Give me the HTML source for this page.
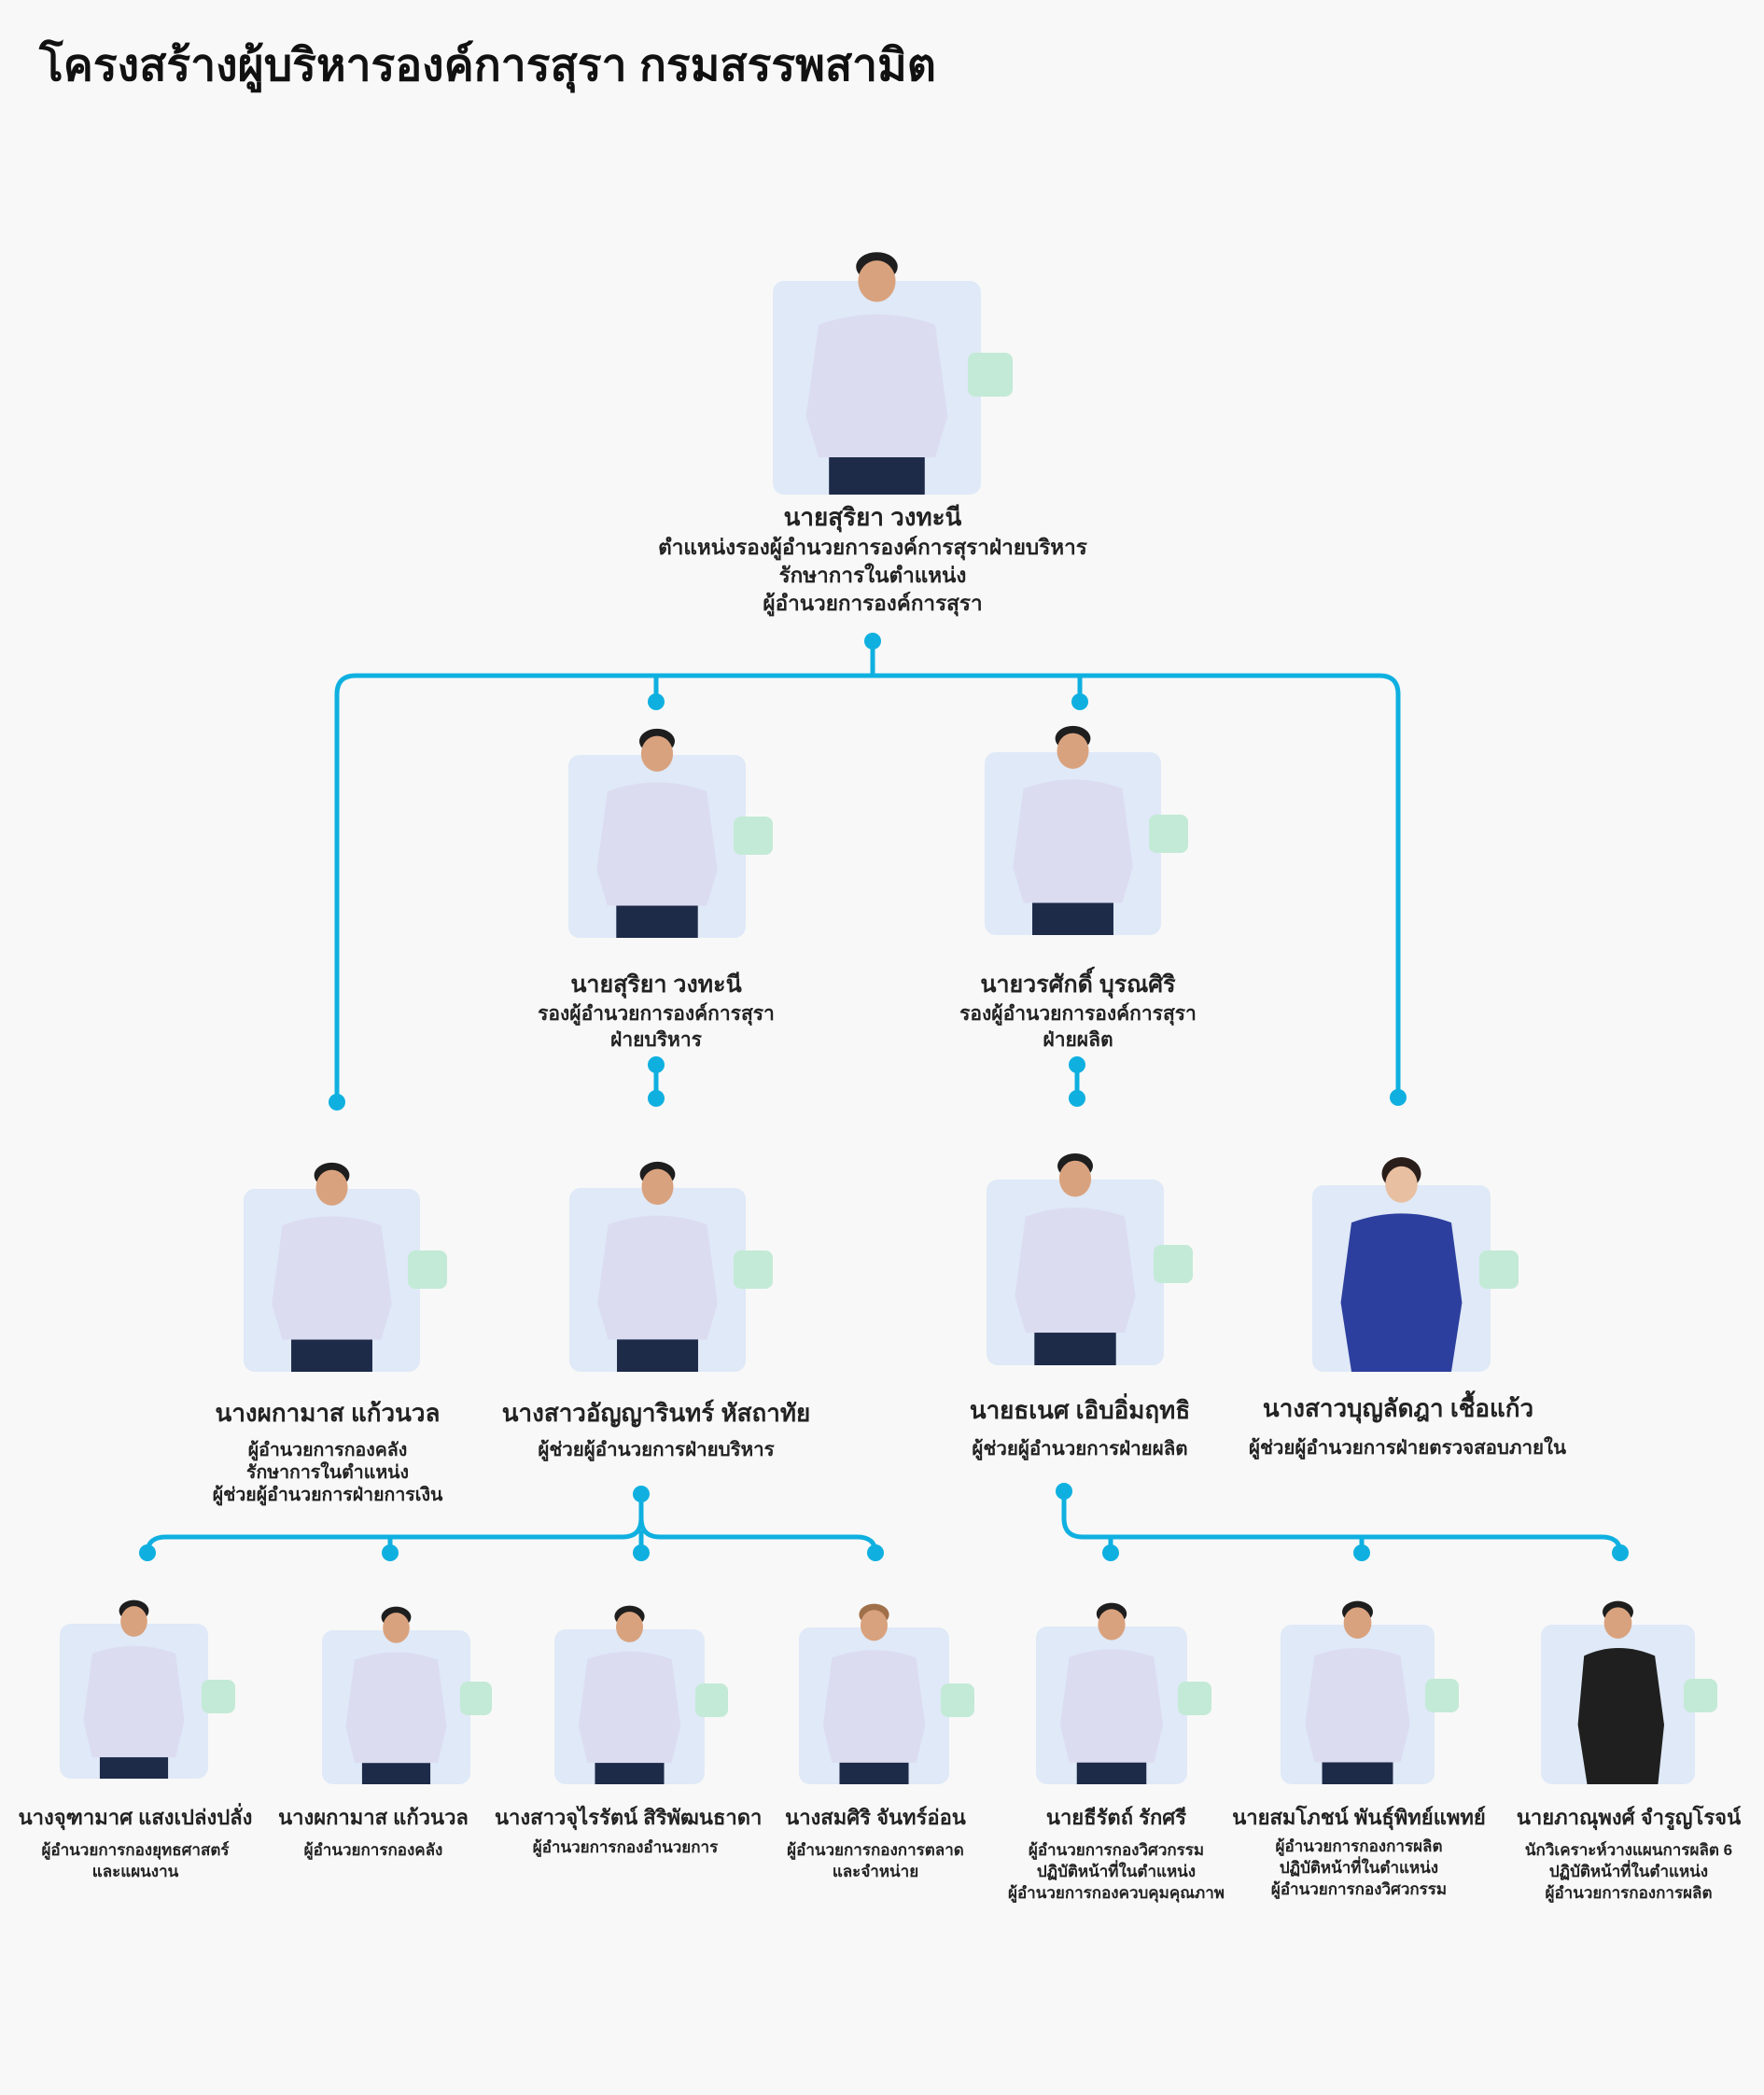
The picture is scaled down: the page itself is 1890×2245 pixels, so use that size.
<!DOCTYPE html>
<html><head><meta charset="utf-8">
<style>
html,body{margin:0;padding:0}
body{width:1890px;height:2245px;background:#f8f8f8;position:relative;overflow:hidden;font-family:"Liberation Sans","Noto Sans CJK SC",sans-serif;color:#222}
.t{position:absolute;text-align:center;white-space:nowrap;font-weight:bold}
.box{position:absolute;background:#dfe9f7;border-radius:12px}
.box svg{position:absolute;left:0;overflow:visible}
.tab{position:absolute;background:#c3ead6;border-radius:8px}
</style></head><body>
<div class="t" style="left:42px;top:32px;font-size:48px;text-align:left;color:#111">โครงสร้างผู้บริหารองค์การสุรา กรมสรรพสามิต</div>

<svg width="1890" height="2245" style="position:absolute;left:0;top:0" fill="none" stroke="#0fb0e0" stroke-width="5">
<path d="M935 687V724M361 1181V744Q361 724 381 724H1478Q1498 724 1498 744V1176M703 724V752M1157 724V752"/>
<path d="M703 1141V1177M1154 1141V1177"/>
<path d="M687 1601V1627Q687 1647 667 1647H178Q158 1647 158 1664M687 1627Q687 1647 707 1647H918Q938 1647 938 1664M418 1647V1664M687 1640V1664"/>
<path d="M1140 1598V1627Q1140 1647 1160 1647H1716Q1736 1647 1736 1664M1190 1647V1664M1459 1647V1664"/>
<g fill="#0fb0e0" stroke="none">
<circle cx="935" cy="687" r="9"/><circle cx="703" cy="752" r="9"/><circle cx="1157" cy="752" r="9"/><circle cx="361" cy="1181" r="9"/><circle cx="1498" cy="1176" r="9"/>
<circle cx="703" cy="1141" r="9"/><circle cx="703" cy="1177" r="9"/><circle cx="1154" cy="1141" r="9"/><circle cx="1154" cy="1177" r="9"/>
<circle cx="687" cy="1601" r="9"/><circle cx="1140" cy="1598" r="9"/>
<circle cx="158" cy="1664" r="9"/><circle cx="418" cy="1664" r="9"/><circle cx="687" cy="1664" r="9"/><circle cx="938" cy="1664" r="9"/>
<circle cx="1190" cy="1664" r="9"/><circle cx="1459" cy="1664" r="9"/><circle cx="1736" cy="1664" r="9"/>
</g></svg>

<div class="box" style="left:828px;top:301px;width:223px;height:229px"><svg width="223" height="262" style="top:-33px" viewBox="0 0 100 118" preserveAspectRatio="none"><ellipse cx="50" cy="8" rx="10" ry="7" fill="#1e1e1e"/><ellipse cx="50" cy="15" rx="9" ry="10" fill="#d9a27e"/><path d="M22 36Q50 26 78 36L84 80L78 100H22L16 80Z" fill="#dcdcf1"/><rect x="27" y="100" width="46" height="18" fill="#1d2a48"/></svg></div>
<div class="tab" style="left:1037px;top:378px;width:48px;height:47px"></div>
<div class="t" style="left:535px;width:800px;top:538px;font-size:26px;line-height:32px">นายสุริยา วงทะนี</div>
<div class="t" style="left:535px;width:800px;top:572px;font-size:22.5px;line-height:30px">ตำแหน่งรองผู้อำนวยการองค์การสุราฝ่ายบริหาร<br>รักษาการในตำแหน่ง<br>ผู้อำนวยการองค์การสุรา</div>

<div class="box" style="left:609px;top:809px;width:190px;height:196px"><svg width="190" height="226" style="top:-30px" viewBox="0 0 100 118" preserveAspectRatio="none"><ellipse cx="50" cy="8" rx="10" ry="7" fill="#1e1e1e"/><ellipse cx="50" cy="15" rx="9" ry="10" fill="#d9a27e"/><path d="M22 36Q50 26 78 36L84 80L78 100H22L16 80Z" fill="#dcdcf1"/><rect x="27" y="100" width="46" height="18" fill="#1d2a48"/></svg></div>
<div class="tab" style="left:786px;top:875px;width:42px;height:41px"></div>
<div class="box" style="left:1055px;top:806px;width:189px;height:196px"><svg width="189" height="226" style="top:-30px" viewBox="0 0 100 118" preserveAspectRatio="none"><ellipse cx="50" cy="8" rx="10" ry="7" fill="#1e1e1e"/><ellipse cx="50" cy="15" rx="9" ry="10" fill="#d9a27e"/><path d="M22 36Q50 26 78 36L84 80L78 100H22L16 80Z" fill="#dcdcf1"/><rect x="27" y="100" width="46" height="18" fill="#1d2a48"/></svg></div>
<div class="tab" style="left:1231px;top:873px;width:42px;height:41px"></div>
<div class="t" style="left:453px;width:500px;top:1039px;font-size:25px;line-height:32px">นายสุริยา วงทะนี</div>
<div class="t" style="left:453px;width:500px;top:1073px;font-size:21px;line-height:28px">รองผู้อำนวยการองค์การสุรา<br>ฝ่ายบริหาร</div>
<div class="t" style="left:905px;width:500px;top:1039px;font-size:25px;line-height:32px">นายวรศักดิ์ บุรณศิริ</div>
<div class="t" style="left:905px;width:500px;top:1073px;font-size:21px;line-height:28px">รองผู้อำนวยการองค์การสุรา<br>ฝ่ายผลิต</div>

<div class="box" style="left:261px;top:1274px;width:189px;height:196px"><svg width="189" height="226" style="top:-30px" viewBox="0 0 100 118" preserveAspectRatio="none"><ellipse cx="50" cy="8" rx="10" ry="7" fill="#1e1e1e"/><ellipse cx="50" cy="15" rx="9" ry="10" fill="#d9a27e"/><path d="M22 36Q50 26 78 36L84 80L78 100H22L16 80Z" fill="#dcdcf1"/><rect x="27" y="100" width="46" height="18" fill="#1d2a48"/></svg></div>
<div class="tab" style="left:437px;top:1340px;width:42px;height:41px"></div>
<div class="box" style="left:610px;top:1273px;width:189px;height:197px"><svg width="189" height="227" style="top:-30px" viewBox="0 0 100 118" preserveAspectRatio="none"><ellipse cx="50" cy="8" rx="10" ry="7" fill="#1e1e1e"/><ellipse cx="50" cy="15" rx="9" ry="10" fill="#d9a27e"/><path d="M22 36Q50 26 78 36L84 80L78 100H22L16 80Z" fill="#dcdcf1"/><rect x="27" y="100" width="46" height="18" fill="#1d2a48"/></svg></div>
<div class="tab" style="left:786px;top:1340px;width:42px;height:41px"></div>
<div class="box" style="left:1057px;top:1264px;width:190px;height:199px"><svg width="190" height="229" style="top:-30px" viewBox="0 0 100 118" preserveAspectRatio="none"><ellipse cx="50" cy="8" rx="10" ry="7" fill="#1e1e1e"/><ellipse cx="50" cy="15" rx="9" ry="10" fill="#d9a27e"/><path d="M22 36Q50 26 78 36L84 80L78 100H22L16 80Z" fill="#dcdcf1"/><rect x="27" y="100" width="46" height="18" fill="#1d2a48"/></svg></div>
<div class="tab" style="left:1236px;top:1334px;width:42px;height:41px"></div>
<div class="box" style="left:1406px;top:1270px;width:191px;height:200px"><svg width="191" height="230" style="top:-30px" viewBox="0 0 100 118" preserveAspectRatio="none"><ellipse cx="50" cy="9" rx="11" ry="9" fill="#2a1e1a"/><ellipse cx="50" cy="15" rx="9" ry="10" fill="#e8bfa0"/><path d="M22 36Q50 26 78 36L84 80L78 118H22L16 80Z" fill="#2d3f9e"/></svg></div>
<div class="tab" style="left:1585px;top:1340px;width:42px;height:41px"></div>

<div class="t" style="left:151px;width:400px;top:1498px;font-size:26px;line-height:32px">นางผกามาส แก้วนวล</div>
<div class="t" style="left:151px;width:400px;top:1542px;font-size:19.5px;line-height:24px">ผู้อำนวยการกองคลัง<br>รักษาการในตำแหน่ง<br>ผู้ช่วยผู้อำนวยการฝ่ายการเงิน</div>
<div class="t" style="left:453px;width:500px;top:1498px;font-size:26px;line-height:32px">นางสาวอัญญารินทร์ หัสถาทัย</div>
<div class="t" style="left:453px;width:500px;top:1542px;font-size:20.5px;line-height:24px">ผู้ช่วยผู้อำนวยการฝ่ายบริหาร</div>
<div class="t" style="left:907px;width:500px;top:1495px;font-size:26px;line-height:32px">นายธเนศ เอิบอิ่มฤทธิ</div>
<div class="t" style="left:907px;width:500px;top:1541px;font-size:20.5px;line-height:24px">ผู้ช่วยผู้อำนวยการฝ่ายผลิต</div>
<div class="t" style="left:1248px;width:500px;top:1493px;font-size:26px;line-height:32px">นางสาวบุญลัดฎา เชื้อแก้ว</div>
<div class="t" style="left:1258px;width:500px;top:1540px;font-size:20.5px;line-height:24px">ผู้ช่วยผู้อำนวยการฝ่ายตรวจสอบภายใน</div>

<div class="box" style="left:64px;top:1740px;width:159px;height:166px"><svg width="159" height="193" style="top:-27px" viewBox="0 0 100 118" preserveAspectRatio="none"><ellipse cx="50" cy="8" rx="10" ry="7" fill="#1e1e1e"/><ellipse cx="50" cy="15" rx="9" ry="10" fill="#d9a27e"/><path d="M22 36Q50 26 78 36L84 80L78 104H22L16 80Z" fill="#dcdcf1"/><rect x="27" y="104" width="46" height="14" fill="#1d2a48"/></svg></div>
<div class="tab" style="left:216px;top:1800px;width:36px;height:36px"></div>
<div class="box" style="left:345px;top:1747px;width:159px;height:165px"><svg width="159" height="192" style="top:-27px" viewBox="0 0 100 118" preserveAspectRatio="none"><ellipse cx="50" cy="8" rx="10" ry="7" fill="#1e1e1e"/><ellipse cx="50" cy="15" rx="9" ry="10" fill="#d9a27e"/><path d="M22 36Q50 26 78 36L84 80L78 104H22L16 80Z" fill="#dcdcf1"/><rect x="27" y="104" width="46" height="14" fill="#1d2a48"/></svg></div>
<div class="tab" style="left:493px;top:1802px;width:34px;height:36px"></div>
<div class="box" style="left:594px;top:1746px;width:161px;height:166px"><svg width="161" height="193" style="top:-27px" viewBox="0 0 100 118" preserveAspectRatio="none"><ellipse cx="50" cy="8" rx="10" ry="7" fill="#1e1e1e"/><ellipse cx="50" cy="15" rx="9" ry="10" fill="#d9a27e"/><path d="M22 36Q50 26 78 36L84 80L78 104H22L16 80Z" fill="#dcdcf1"/><rect x="27" y="104" width="46" height="14" fill="#1d2a48"/></svg></div>
<div class="tab" style="left:745px;top:1804px;width:35px;height:36px"></div>
<div class="box" style="left:856px;top:1744px;width:161px;height:168px"><svg width="161" height="195" style="top:-27px" viewBox="0 0 100 118" preserveAspectRatio="none"><ellipse cx="50" cy="8" rx="10" ry="7" fill="#a0704a"/><ellipse cx="50" cy="15" rx="9" ry="10" fill="#d9a27e"/><path d="M22 36Q50 26 78 36L84 80L78 104H22L16 80Z" fill="#dcdcf1"/><rect x="27" y="104" width="46" height="14" fill="#1d2a48"/></svg></div>
<div class="tab" style="left:1008px;top:1804px;width:36px;height:36px"></div>
<div class="box" style="left:1110px;top:1743px;width:162px;height:169px"><svg width="162" height="196" style="top:-27px" viewBox="0 0 100 118" preserveAspectRatio="none"><ellipse cx="50" cy="8" rx="10" ry="7" fill="#1e1e1e"/><ellipse cx="50" cy="15" rx="9" ry="10" fill="#d9a27e"/><path d="M22 36Q50 26 78 36L84 80L78 104H22L16 80Z" fill="#dcdcf1"/><rect x="27" y="104" width="46" height="14" fill="#1d2a48"/></svg></div>
<div class="tab" style="left:1262px;top:1802px;width:36px;height:36px"></div>
<div class="box" style="left:1372px;top:1741px;width:165px;height:171px"><svg width="165" height="198" style="top:-27px" viewBox="0 0 100 118" preserveAspectRatio="none"><ellipse cx="50" cy="8" rx="10" ry="7" fill="#1e1e1e"/><ellipse cx="50" cy="15" rx="9" ry="10" fill="#d9a27e"/><path d="M22 36Q50 26 78 36L84 80L78 104H22L16 80Z" fill="#dcdcf1"/><rect x="27" y="104" width="46" height="14" fill="#1d2a48"/></svg></div>
<div class="tab" style="left:1527px;top:1799px;width:36px;height:36px"></div>
<div class="box" style="left:1651px;top:1741px;width:165px;height:171px"><svg width="165" height="198" style="top:-27px" viewBox="0 0 100 118" preserveAspectRatio="none"><ellipse cx="50" cy="8" rx="10" ry="7" fill="#1e1e1e"/><ellipse cx="50" cy="15" rx="9" ry="10" fill="#d9a27e"/><path d="M28 36Q50 26 74 36L80 80L76 118H30L24 80Z" fill="#1f1f1f"/></svg></div>
<div class="tab" style="left:1804px;top:1799px;width:36px;height:36px"></div>

<div class="t" style="left:5px;width:280px;top:1934px;font-size:22px;line-height:28px">นางจุฑามาศ แสงเปล่งปลั่ง</div>
<div class="t" style="left:5px;width:280px;top:1971px;font-size:17px;line-height:23px">ผู้อำนวยการกองยุทธศาสตร์<br>และแผนงาน</div>
<div class="t" style="left:280px;width:240px;top:1934px;font-size:22px;line-height:28px">นางผกามาส แก้วนวล</div>
<div class="t" style="left:280px;width:240px;top:1971px;font-size:17px;line-height:23px">ผู้อำนวยการกองคลัง</div>
<div class="t" style="left:530px;width:280px;top:1934px;font-size:22px;line-height:28px">นางสาวจุไรรัตน์ สิริพัฒนธาดา</div>
<div class="t" style="left:530px;width:280px;top:1968px;font-size:17px;line-height:23px">ผู้อำนวยการกองอำนวยการ</div>
<div class="t" style="left:818px;width:240px;top:1934px;font-size:22px;line-height:28px">นางสมศิริ จันทร์อ่อน</div>
<div class="t" style="left:818px;width:240px;top:1971px;font-size:17px;line-height:23px">ผู้อำนวยการกองการตลาด<br>และจำหน่าย</div>
<div class="t" style="left:1066px;width:260px;top:1934px;font-size:22px;line-height:28px">นายธีรัตถ์ รักศรี</div>
<div class="t" style="left:1066px;width:260px;top:1971px;font-size:17px;line-height:23px">ผู้อำนวยการกองวิศวกรรม<br>ปฏิบัติหน้าที่ในตำแหน่ง<br>ผู้อำนวยการกองควบคุมคุณภาพ</div>
<div class="t" style="left:1316px;width:280px;top:1934px;font-size:22px;line-height:28px">นายสมโภชน์ พันธุ์พิทย์แพทย์</div>
<div class="t" style="left:1316px;width:280px;top:1967px;font-size:17px;line-height:23px">ผู้อำนวยการกองการผลิต<br>ปฏิบัติหน้าที่ในตำแหน่ง<br>ผู้อำนวยการกองวิศวกรรม</div>
<div class="t" style="left:1605px;width:280px;top:1934px;font-size:22px;line-height:28px">นายภาณุพงศ์ จำรูญโรจน์</div>
<div class="t" style="left:1605px;width:280px;top:1971px;font-size:17px;line-height:23px">นักวิเคราะห์วางแผนการผลิต 6<br>ปฏิบัติหน้าที่ในตำแหน่ง<br>ผู้อำนวยการกองการผลิต</div>
</body></html>
